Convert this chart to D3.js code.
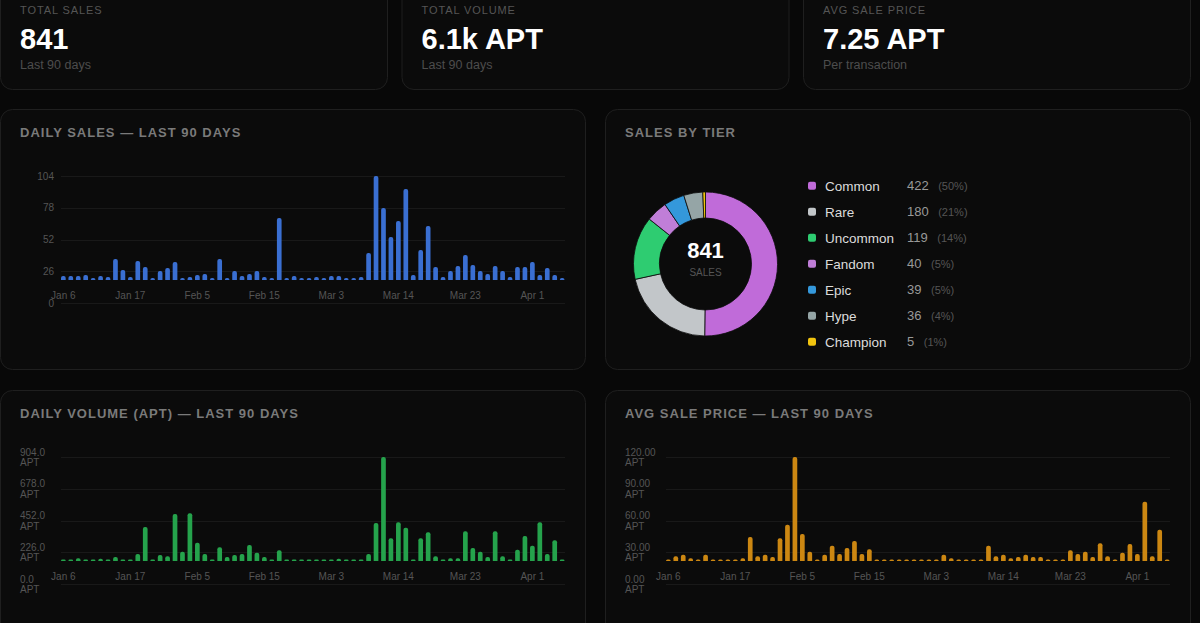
<!DOCTYPE html>
<html><head><meta charset="utf-8">
<script src="https://cdn.jsdelivr.net/npm/d3@7"></script>
<style>
html,body{margin:0;padding:0;background:#080808;overflow:hidden}
svg{display:block;font-family:"Liberation Sans",Arial,Helvetica,sans-serif}
</style></head><body>
<svg id="c" width="1200" height="623"></svg>
<script>
// ---------- DATA ----------
const dates = [
  "Jan 6","Jan 7","Jan 8","Jan 9","Jan 10","Jan 12","Jan 13","Jan 14","Jan 16","Jan 17",
  "Jan 19","Jan 21","Jan 23","Jan 25","Jan 28","Jan 30","Feb 1","Feb 3","Feb 5","Feb 6",
  "Feb 7","Feb 8","Feb 9","Feb 10","Feb 11","Feb 12","Feb 14","Feb 15","Feb 17","Feb 19",
  "Feb 20","Feb 22","Feb 24","Feb 26","Feb 27","Mar 1","Mar 3","Mar 4","Mar 5","Mar 7",
  "Mar 8","Mar 9","Mar 10","Mar 11","Mar 13","Mar 14","Mar 15","Mar 16","Mar 17","Mar 18",
  "Mar 19","Mar 20","Mar 21","Mar 22","Mar 23","Mar 24","Mar 25","Mar 26","Mar 27","Mar 28",
  "Mar 29","Mar 30","Mar 31","Apr 1","Apr 2","Apr 3","Apr 4","Apr 5"
];
const xTickLabels = ["Jan 6","Jan 17","Feb 5","Feb 15","Mar 3","Mar 14","Mar 23","Apr 1"];

const dailySales = [
  4,4,4,5,2,4,3,21,10,3, 19,13,2,9,12,18,2,3,5,6, 2,21,2,9,4,6,9,3,2,62, 2,4,
  2,2,3,2,4,4,2,2,3, 27,104,72,43,59,91,5,30,54,13, 3,9,14,25,15,9,6,14,9,3, 13,13,18,5,12,5,2
];
const dailyVolume = [
  12,12,23,12,12,20,12,35,12,12, 61,295,12,52,41,408,81,415,159,61, 12,119,35,52,61,139,72,35,12,93, 12,12,
  12,12,12,12,12,20,12,12,12, 61,330,904,197,336,290,12,197,249,41, 12,23,23,258,113,81,35,258,41,12, 98,217,133,336,61,180,12
];
const avgPrice = [
  1.8,5.4,7.3,3.1,1.8,7.3,1.8,1.8,1.8,1.8, 3.1,27.7,5.4,7.3,4.6,26.2,41.9,120,31.2,10.8,
  1.8,7.3,17.7,8.1,15,23.1,8.1,13.5,1.8,1.8, 1.8,1.8,
  1.8,1.8,1.8,1.8,1.8,7.3,3.1,1.8,1.8,1.8, 1.8,17.7,5.4,7.3,3.1,4.6,7.3,4.6,4.6,1.8,
  1.8,1.8,12.3,8.1,10.8,4.6,20.4,5.4,1.8,9.6, 19.6,8.1,68.5,5.4,36.2,1.8
];
const salesTicks = [0,26,52,78,104];
const volumeTicks = [0,226,452,678,904];
const priceTicks = [0,30,60,90,120];

const tierNames = ["Common","Rare","Uncommon","Fandom","Epic","Hype","Champion"];
const tierCounts = [422,180,119,40,39,36,5];
const tierColors = ["#c06bd9","#c2c6c9","#2ecc71","#c07ed8","#3498db","#95a5a6","#f1c40f"];

const kpiLabels = ["TOTAL SALES","TOTAL VOLUME","AVG SALE PRICE"];
const kpiValues = ["841","6.1k APT","7.25 APT"];
const kpiSubs = ["Last 90 days","Last 90 days","Per transaction"];

// ---------- DRAW ----------
const svg = d3.select("#c");
const CARD_BG = "#0b0b0b", BORDER = "#1f1f1f";

function card(x, y, w, h) {
  svg.append("rect").attr("x", x + 0.5).attr("y", y + 0.5)
    .attr("width", w - 1).attr("height", h - 1).attr("rx", 12)
    .attr("fill", CARD_BG).attr("stroke", BORDER);
}

// KPI cards
const kpiX = [0, 401.5, 803];
kpiX.forEach((x, i) => {
  card(x, -30, 388, 120);
  svg.append("text").attr("x", x + 20).attr("y", 14)
    .attr("font-size", 11).attr("letter-spacing", 0.9).attr("fill", "#555")
    .text(kpiLabels[i]);
  svg.append("text").attr("x", x + 20).attr("y", 48.5)
    .attr("font-size", 29).attr("font-weight", "bold").attr("fill", "#fff")
    .text(kpiValues[i]);
  svg.append("text").attr("x", x + 20).attr("y", 68.5)
    .attr("font-size", 12.5).attr("fill", "#4d4d4d")
    .text(kpiSubs[i]);
});

function title(x, y, t) {
  svg.append("text").attr("x", x + 20).attr("y", y + 28)
    .attr("font-size", 13).attr("font-weight", "bold").attr("letter-spacing", 1)
    .attr("fill", "#7a7a7a").text(t);
}

card(0, 109, 586, 261);
card(605, 109, 586, 261);
card(0, 390, 586, 262);
card(605, 390, 586, 262);
title(0, 109, "DAILY SALES — LAST 90 DAYS");
title(605, 109, "SALES BY TIER");
title(0, 390, "DAILY VOLUME (APT) — LAST 90 DAYS");
title(605, 390, "AVG SALE PRICE — LAST 90 DAYS");

function topRoundedBar(x, y, w, h, r) {
  r = Math.min(r, w / 2, h);
  return `M${x},${y + h}V${y + r}Q${x},${y} ${x + r},${y}H${x + w - r}Q${x + w},${y} ${x + w},${y + r}V${y + h}Z`;
}

function barChart(ox, oy, values, color, ticks, twoLine, decimals) {
  const g = svg.append("g");
  const x = d3.scaleBand().domain(dates).range([ox + 61, ox + 564.5])
    .paddingInner(0.37).paddingOuter(0);
  const yMax = ticks[ticks.length - 1];
  const yAxis = d3.scaleLinear().domain([0, yMax]).range([oy + 194, oy + 67]);
  const yBar = d3.scaleLinear().domain([0, yMax]).range([oy + 171, oy + 67]);

  // gridlines
  g.selectAll(".grid").data(ticks).join("line")
    .attr("x1", ox + 61).attr("x2", ox + 565)
    .attr("y1", d => Math.round(yAxis(d)) + 0.5).attr("y2", d => Math.round(yAxis(d)) + 0.5)
    .attr("stroke", "#191919").attr("stroke-width", 1);

  // y labels
  if (!twoLine) {
    g.selectAll(".yl").data(ticks).join("text")
      .attr("x", ox + 54).attr("y", d => yAxis(d)).attr("dy", "0.35em")
      .attr("text-anchor", "end").attr("font-size", 10).attr("fill", "#555")
      .text(d => d);
  } else {
    const t = g.selectAll(".yl").data(ticks).join("text")
      .attr("font-size", 10).attr("fill", "#555");
    t.append("tspan").attr("x", ox + 20).attr("y", d => yAxis(d) - 5 + 3.6)
      .text(d => d.toFixed(decimals));
    t.append("tspan").attr("x", ox + 20).attr("y", d => yAxis(d) + 5.4 + 3.6)
      .text("APT");
  }

  // bars
  g.selectAll(".bar").data(values).join("path")
    .attr("d", (d, i) => {
      const bx = x(dates[i]), bw = x.bandwidth();
      const top = yBar(d), h = yBar(0) - top;
      return topRoundedBar(bx, top, bw, h, 2);
    })
    .attr("fill", color);

  // x axis labels
  const ax = d3.axisBottom(x).tickValues(xTickLabels).tickSize(0).tickPadding(0);
  const axg = svg.append("g").attr("transform", `translate(0,${oy + 182.5})`).call(ax);
  axg.select(".domain").remove();
  axg.selectAll("text").attr("font-size", 10).attr("fill", "#555")
    .attr("font-family", "'Liberation Sans',Arial,sans-serif");
}

barChart(0, 109, dailySales, "#3a6fd2", salesTicks, false, 0);
barChart(0, 390, dailyVolume, "#25a34c", volumeTicks, true, 1);
barChart(605, 390, avgPrice, "#cc8712", priceTicks, true, 2);

// Donut
const cx = 705.5, cy = 264;
const pie = d3.pie().sort(null).value(d => d)(tierCounts);
const arc = d3.arc().innerRadius(46).outerRadius(72);
svg.append("g").attr("transform", `translate(${cx},${cy})`)
  .selectAll("path").data(pie).join("path")
  .attr("d", arc).attr("fill", (d, i) => tierColors[i])
  .attr("stroke", CARD_BG).attr("stroke-width", 0.8);
svg.append("text").attr("x", cx).attr("y", 258).attr("text-anchor", "middle")
  .attr("font-size", 22).attr("font-weight", "bold").attr("fill", "#fff")
  .text(d3.sum(tierCounts));
svg.append("text").attr("x", cx).attr("y", 275.8).attr("text-anchor", "middle")
  .attr("font-size", 10).attr("fill", "#555").text("SALES");

// Legend
const total = d3.sum(tierCounts);
const lg = svg.append("g");
tierNames.forEach((n, i) => {
  const yc = 185.7 + i * 26;
  lg.append("rect").attr("x", 808).attr("y", yc - 4).attr("width", 8).attr("height", 8)
    .attr("rx", 2).attr("fill", tierColors[i]);
  lg.append("text").attr("x", 825).attr("y", yc + 4.8)
    .attr("font-size", 13.5).attr("fill", "#dcdcdc").text(n);
  const t = lg.append("text").attr("x", 907).attr("y", yc + 4.6);
  t.append("tspan").attr("font-size", 13).attr("fill", "#999").text(tierCounts[i]);
  t.append("tspan").attr("dx", 9.5).attr("font-size", 11).attr("fill", "#555")
    .text(`(${Math.round(tierCounts[i] / total * 100)}%)`);
});
</script>
</body></html>
